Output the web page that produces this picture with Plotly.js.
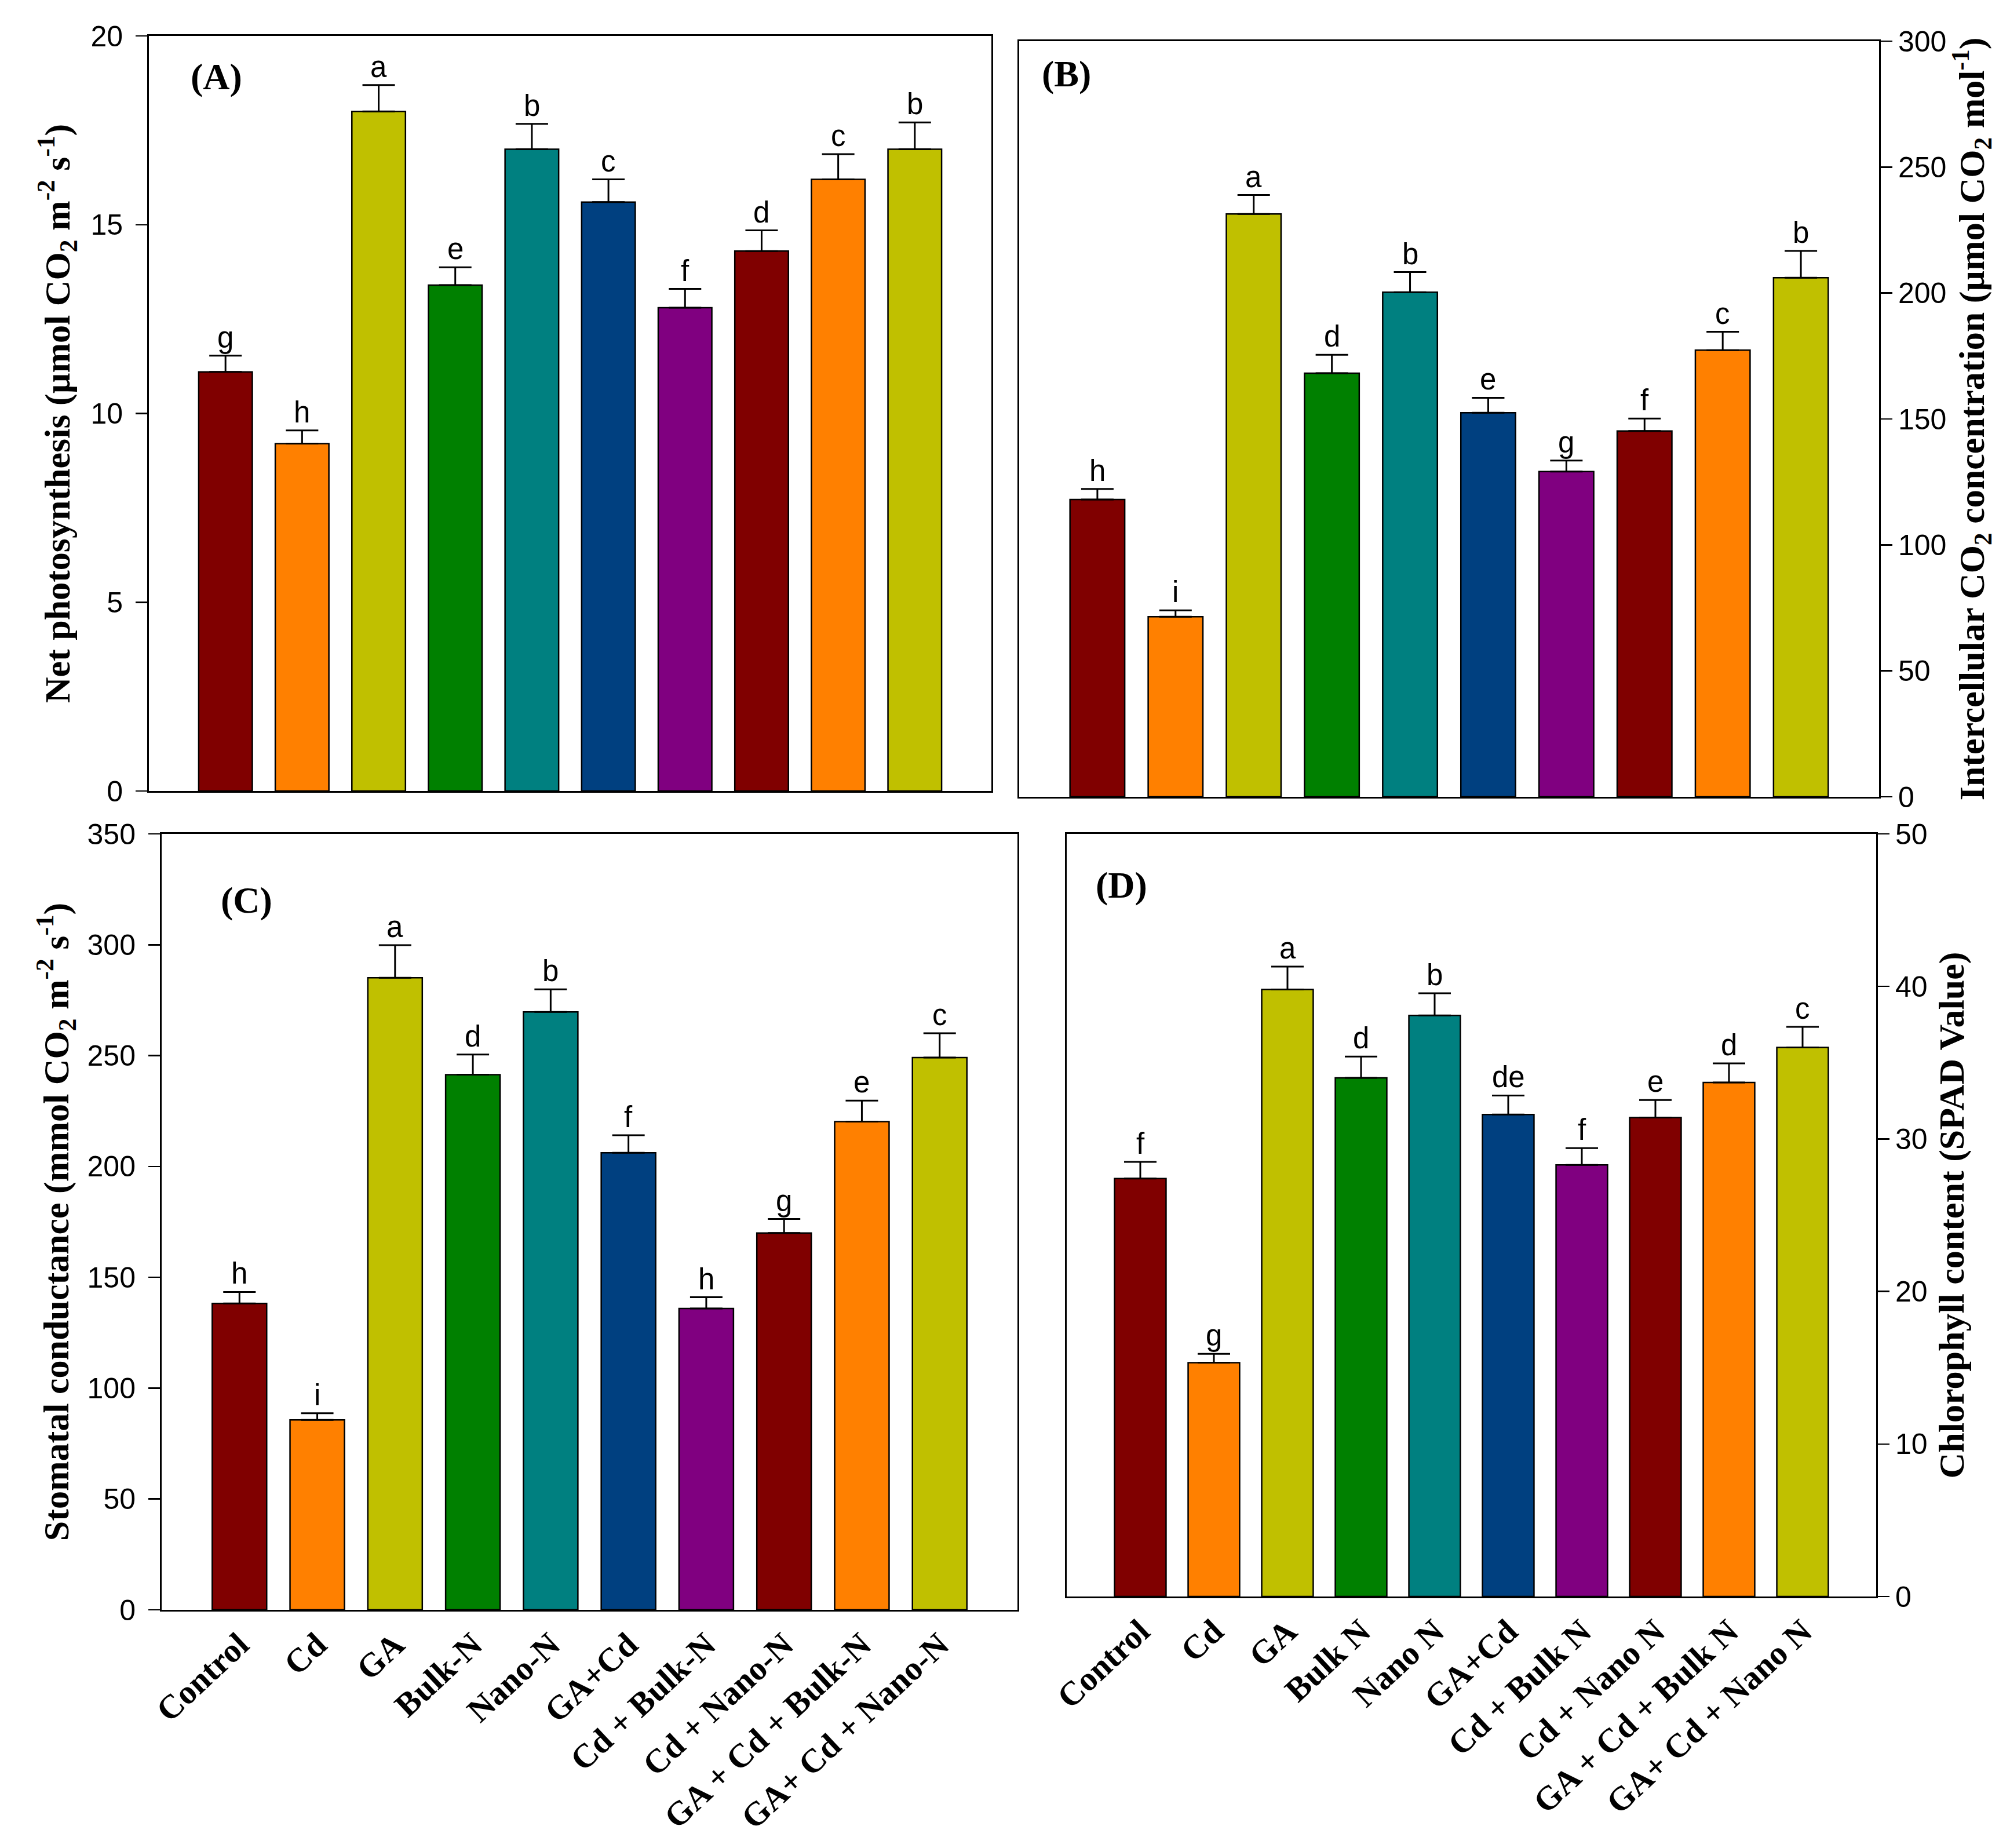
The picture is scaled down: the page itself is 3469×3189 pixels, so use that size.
<!DOCTYPE html>
<html>
<head>
<meta charset="utf-8">
<script src="https://cdn.plot.ly/plotly-3.0.1.min.js"></script>
<style>
  html, body { margin: 0; padding: 0; background: #ffffff; }
  #chart { width: 3469px; height: 3189px; }
</style>
</head>
<body>
<div id="chart"></div>
<script>
// Treatment labels (panel C uses hyphenated names, panel D plain names)
const labelsC = ['Control', 'Cd', 'GA', 'Bulk-N', 'Nano-N', 'GA+Cd', 'Cd + Bulk-N', 'Cd + Nano-N', 'GA + Cd + Bulk-N', 'GA+ Cd + Nano-N'];
const labelsD = ['Control', 'Cd', 'GA', 'Bulk N', 'Nano N', 'GA+Cd', 'Cd + Bulk N', 'Cd + Nano N', 'GA + Cd + Bulk N', 'GA+ Cd + Nano N'];

// (A) Net photosynthesis
const netPhoto    = [11.1, 9.2, 18.0, 13.4, 17.0, 15.6, 12.8, 14.3, 16.2, 17.0];
const netPhotoErr = [0.43, 0.35, 0.70, 0.47, 0.67, 0.60, 0.50, 0.55, 0.67, 0.71];
const netPhotoSig = ['g', 'h', 'a', 'e', 'b', 'c', 'f', 'd', 'c', 'b'];

// (B) Intercellular CO2 concentration
const interCO2    = [118, 71.5, 231.4, 168.2, 200.3, 152.5, 129.1, 145.2, 177.3, 206.1];
const interCO2Err = [4.2, 2.5, 7.5, 7.3, 8.0, 5.9, 4.4, 5.0, 7.3, 10.6];
const interCO2Sig = ['h', 'i', 'a', 'd', 'b', 'e', 'g', 'f', 'c', 'b'];

// (C) Stomatal conductance
const stomCond    = [138.2, 85.7, 285.1, 241.4, 269.7, 206.2, 135.9, 170.0, 220.2, 249.1];
const stomCondErr = [5.2, 3.0, 14.7, 9.1, 10.2, 7.9, 5.1, 6.3, 9.5, 11.0];
const stomCondSig = ['h', 'i', 'a', 'd', 'b', 'f', 'h', 'g', 'e', 'c'];

// (D) Chlorophyll content
const chloro      = [27.4, 15.33, 39.8, 34.0, 38.1, 31.6, 28.3, 31.4, 33.7, 36.0];
const chloroErr   = [1.1, 0.58, 1.5, 1.4, 1.45, 1.25, 1.1, 1.15, 1.25, 1.35];
const chloroSig   = ['f', 'g', 'a', 'd', 'b', 'de', 'f', 'e', 'd', 'c'];

const barColors = ['#800000', '#FF8000', '#C0C000', '#008000', '#008080',
                   '#004080', '#800080', '#800000', '#FF8000', '#C0C000'];

const W = 3469, H = 3189;
const px = v => v / W;
const py = v => 1 - v / H;

const serif = 'Liberation Serif, Times New Roman, serif';
const sans = 'Liberation Sans, Arial, sans-serif';

function barTrace(cats, vals, errs, xa, ya) {
  return {
    type: 'bar',
    x: cats,
    y: vals,
    xaxis: xa,
    yaxis: ya,
    marker: { color: barColors, line: { color: '#000000', width: 2.5 } },
    error_y: {
      type: 'data',
      symmetric: false,
      array: errs,
      arrayminus: errs.map(() => 0),
      color: '#000000',
      thickness: 3,
      width: 28
    },
    showlegend: false,
    hoverinfo: 'x+y'
  };
}

function sigNotes(cats, vals, errs, sig, xa, ya) {
  return sig.map((s, i) => ({
    x: cats[i],
    y: vals[i] + errs[i],
    xref: xa,
    yref: ya,
    text: s,
    showarrow: false,
    xanchor: 'center',
    yanchor: 'bottom',
    yshift: 1,
    font: { family: sans, size: 51, color: '#000000' }
  }));
}

const traces = [
  barTrace(labelsC, netPhoto, netPhotoErr, 'x', 'y'),
  barTrace(labelsC, interCO2, interCO2Err, 'x2', 'y2'),
  barTrace(labelsC, stomCond, stomCondErr, 'x3', 'y3'),
  barTrace(labelsD, chloro, chloroErr, 'x4', 'y4')
];

function xAxis(domain, anchor, showLabels) {
  return {
    domain: domain,
    anchor: anchor,
    type: 'category',
    range: [-1, 10],
    showline: true, mirror: true, linecolor: '#000000', linewidth: 3,
    showgrid: false, zeroline: false,
    ticks: '',
    showticklabels: showLabels,
    tickangle: -43,
    tickfont: { family: serif, size: 58, color: '#000000', weight: 'bold' },
    fixedrange: true
  };
}

function yAxis(domain, anchor, side, maxV, dtick, title, standoff, labelGap) {
  return {
    domain: domain,
    anchor: anchor,
    side: side,
    range: [0, maxV],
    dtick: dtick,
    showline: true, mirror: true, linecolor: '#000000', linewidth: 3,
    showgrid: false, zeroline: false,
    ticks: 'outside', ticklen: 20, tickwidth: 2.5, tickcolor: '#000000',
    ticklabelstandoff: labelGap,
    tickfont: { family: sans, size: 50, color: '#000000' },
    title: {
      text: title,
      standoff: standoff,
      font: { family: serif, size: 62, color: '#000000', weight: 'bold' }
    },
    fixedrange: true
  };
}

function panelLabel(txt, x, y) {
  return {
    text: txt, xref: 'paper', yref: 'paper',
    x: px(x), y: py(y), xanchor: 'left', yanchor: 'middle',
    showarrow: false,
    font: { family: serif, size: 64, color: '#000000', weight: 'bold' }
  };
}

const layout = {
  width: W, height: H,
  margin: { l: 0, r: 0, t: 0, b: 0 },
  paper_bgcolor: '#ffffff',
  plot_bgcolor: '#ffffff',
  bargap: 0.3,
  showlegend: false,
  xaxis:  xAxis([px(257), px(1711)], 'y', false),
  yaxis:  yAxis([py(1365), py(62)], 'x', 'left', 20, 5,
                'Net photosynthesis (µmol CO<sub>2</sub> m<sup>-2</sup> s<sup>-1</sup>)', 16, 12),
  xaxis2: xAxis([px(1759), px(3243)], 'y2', false),
  yaxis2: yAxis([py(1375), py(71)], 'x2', 'right', 300, 50,
                'Intercellular CO<sub>2</sub> concentration (µmol CO<sub>2</sub> mol<sup>-1</sup>)', 14, 0),
  xaxis3: xAxis([px(279), px(1756)], 'y3', true),
  yaxis3: yAxis([py(2778), py(1439)], 'x3', 'left', 350, 50,
                'Stomatal conductance (mmol CO<sub>2</sub> m<sup>-2</sup> s<sup>-1</sup>)', 12, 12),
  xaxis4: xAxis([px(1841), px(3238)], 'y4', true),
  yaxis4: yAxis([py(2755), py(1439)], 'x4', 'right', 50, 10,
                'Chlorophyll content (SPAD Value)', 20, 0),
  annotations: [].concat(
    sigNotes(labelsC, netPhoto, netPhotoErr, netPhotoSig, 'x', 'y'),
    sigNotes(labelsC, interCO2, interCO2Err, interCO2Sig, 'x2', 'y2'),
    sigNotes(labelsC, stomCond, stomCondErr, stomCondSig, 'x3', 'y3'),
    sigNotes(labelsD, chloro, chloroErr, chloroSig, 'x4', 'y4'),
    [
      panelLabel('(A)', 327, 133),
      panelLabel('(B)', 1796, 127),
      panelLabel('(C)', 379, 1554),
      panelLabel('(D)', 1889, 1527)
    ]
  )
};

Plotly.newPlot('chart', traces, layout, { displayModeBar: false, staticPlot: true });
</script>
</body>
</html>
